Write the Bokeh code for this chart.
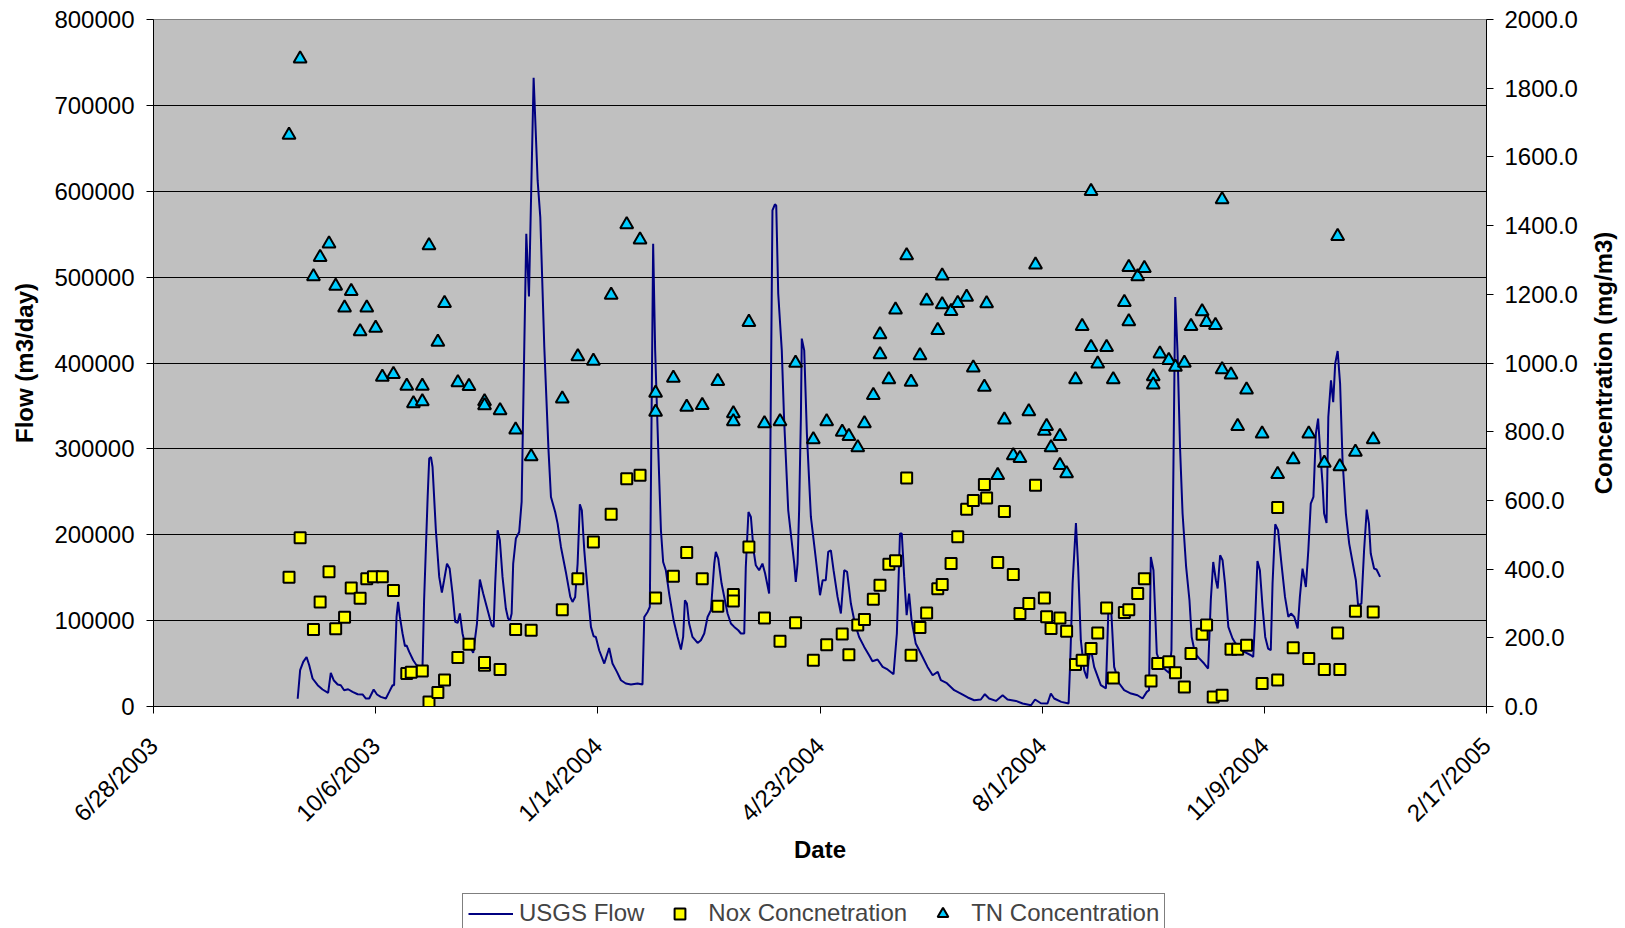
import math
from bokeh.plotting import figure
from bokeh.layouts import column, row
from bokeh.models import (Range1d, LinearAxis, FixedTicker, NumeralTickFormatter,
                          Legend, LegendItem, Label)
from bokeh.embed import file_html
from bokeh.resources import INLINE

# ---------------- data (x = days since 6/28/2003) ----------------
x_tick_days = [0, 100, 200, 300, 400, 500, 600]
x_tick_labels = ["6/28/2003", "10/6/2003", "1/14/2004", "4/23/2004",
                 "8/1/2004", "11/9/2004", "2/17/2005"]
flow_ticks = [0, 100000, 200000, 300000, 400000, 500000, 600000, 700000, 800000]
conc_ticks = [0, 200, 400, 600, 800, 1000, 1200, 1400, 1600, 1800, 2000]
series_names = ["USGS Flow", "Nox Concnetration", "TN Concentration"]

flow_day = [64.9, 66.0, 67.4, 68.9, 70.1, 71.6, 73.9, 76.1, 78.6, 79.8, 81.1, 82.9, 84.3, 85.8,
            87.6, 89.6, 91.9, 94.1, 95.6, 97.1, 99.1, 100.6, 102.3, 104.6, 106.1, 107.6, 108.3,
            109.4, 110.1, 110.9, 112.1, 113.2, 113.9, 115.1, 116.9, 118.4, 120.4, 121.1, 121.8,
            123.4, 124.1, 124.9, 125.6, 127.1, 128.6, 129.8, 130.8, 132.1, 133.3, 134.6, 135.8,
            136.9, 137.9, 139.1, 140.6, 142.9, 143.9, 145.6, 146.9, 148.4, 150.8, 152.2, 153.1,
            153.8, 154.9, 155.9, 157.1, 158.6, 159.6, 160.5, 161.2, 161.9, 163.1, 164.6, 165.7,
            166.1, 166.9, 167.8, 169.0, 171.1, 172.9, 174.1, 175.9, 177.8, 178.9, 180.8, 181.9,
            183.4, 185.6, 187.6, 188.6, 189.8, 190.9, 191.9, 192.8, 193.9, 195.4, 196.9, 198.1,
            199.1, 200.6, 202.9, 205.1, 206.6, 208.6, 210.4, 212.6, 214.9, 217.9, 220.1, 220.9,
            222.4, 223.4, 223.9, 224.9, 225.8, 227.2, 228.4, 229.4, 230.6, 232.1, 234.1, 235.9,
            237.4, 238.4, 239.2, 240.1, 241.1, 242.6, 244.9, 246.4, 247.9, 249.4, 250.9, 252.4,
            253.1, 254.2, 255.7, 257.2, 258.4, 259.9, 261.4, 263.2, 264.4, 265.9, 266.6, 267.4,
            267.8, 268.9, 270.1, 271.1, 272.6, 274.1, 275.3, 277.1, 278.6, 279.7, 280.3, 281.2,
            282.8, 283.8, 285.7, 287.2, 288.4, 289.1, 289.9, 290.6, 291.4, 291.8, 292.9, 294.1,
            295.9, 298.2, 300.0, 301.2, 302.6, 303.7, 304.9, 306.1, 307.9, 309.4, 310.9, 312.2,
            313.9, 315.7, 317.6, 319.9, 322.1, 323.6, 325.9, 328.2, 330.4, 333.1, 334.6, 336.0,
            336.8, 337.9, 339.0, 340.1, 341.2, 343.1, 345.4, 348.4, 350.7, 353.0, 354.4, 357.1,
            360.4, 363.4, 366.5, 369.4, 372.4, 374.2, 376.1, 379.2, 382.2, 384.4, 388.2, 391.2,
            395.0, 396.8, 399.4, 402.4, 403.9, 405.4, 408.6, 411.9, 412.6, 413.7, 415.2, 416.2,
            417.4, 418.9, 420.2, 420.9, 421.9, 423.4, 426.4, 428.7, 429.8, 431.0, 432.4, 434.7,
            436.9, 440.0, 442.9, 445.2, 447.1, 448.1, 448.9, 450.1, 451.6, 453.4, 455.7, 457.2,
            458.2, 459.0, 459.9, 460.9, 462.1, 463.2, 464.8, 466.3, 467.3, 468.8, 470.7, 472.9,
            474.7, 475.9, 477.0, 478.2, 479.0, 480.1, 481.2, 482.3, 483.8, 485.7, 488.0, 491.0,
            494.0, 495.0, 495.9, 496.9, 498.0, 499.2, 500.4, 501.7, 502.9, 503.7, 504.9, 506.2,
            507.7, 509.3, 510.8, 512.0, 513.5, 515.0, 516.0, 517.2, 518.7, 519.8, 520.9, 522.1,
            523.2, 524.2, 525.1, 526.2, 526.9, 528.0, 528.8, 530.0, 531.0, 531.9, 533.0, 534.1,
            535.2, 536.7, 538.2, 539.7, 541.2, 542.2, 543.7, 544.9, 546.1, 547.1, 547.9, 549.4,
            550.5, 552.1]
flow_m3d = [9000, 42300, 51900, 57700, 48100, 32600, 24800, 19800, 15800, 39100, 30600, 25600,
            24800, 19000, 20100, 17000, 14300, 14000, 9300, 9300, 19800, 14000, 11200, 9300, 17000,
            24800, 24800, 104300, 121800, 104300, 85000, 70200, 71300, 63600, 53900, 48100, 46100,
            48100, 123700, 244000, 288700, 290500, 278900, 205200, 150900, 132700, 147000, 166400,
            160600, 131500, 98500, 97300, 108300, 85000, 67500, 67500, 62400, 96600, 147800,
            131500, 108300, 94600, 92700, 143200, 205200, 193600, 150900, 114100, 102400, 100500,
            108300, 166400, 195600, 203200, 238200, 298300, 420000, 550600, 477600, 732200,
            612600, 569900, 418600, 298300, 244000, 226500, 213000, 185800, 156700, 127600,
            121800, 127600, 166400, 235500, 228500, 181900, 135400, 92700, 81800, 81000, 65500,
            50000, 68200, 50000, 40300, 30600, 26800, 25600, 26800, 25600, 104300, 110100, 115900,
            259600, 538900, 414700, 298300, 205200, 168300, 158700, 131500, 100500, 81000, 66300,
            81000, 123700, 119900, 96600, 81000, 74000, 77200, 85000, 104300, 112100, 166400,
            180000, 172300, 143200, 123700, 108300, 96600, 92700, 88800, 85000, 85000, 162500,
            205200, 226500, 220700, 181900, 164500, 158700, 166400, 154800, 131500, 577700,
            584700, 583500, 480700, 414700, 337100, 228500, 193600, 166400, 145000, 166400,
            228500, 337100, 428400, 414700, 317800, 220700, 170300, 129600, 147000, 147000,
            180000, 181900, 158700, 127600, 108300, 158700, 156700, 119900, 96600, 81000, 69400,
            59700, 52700, 54700, 46100, 43100, 37600, 85000, 201400, 201400, 150900, 106300,
            131500, 100500, 73300, 61700, 46100, 36400, 40300, 30600, 27100, 19000, 15100, 10500,
            7300, 8150, 14300, 9300, 6500, 13100, 8150, 6500, 3500, 1500, 8150, 3800, 3500, 15100,
            9300, 5400, 3500, 50000, 143200, 213700, 162500, 77200, 42300, 32600, 53900, 67500,
            46100, 24800, 21000, 112100, 115900, 46100, 26800, 19000, 15100, 13100, 9300, 17000,
            19000, 174100, 158700, 61700, 48100, 42300, 39100, 65500, 259600, 476800, 414700,
            298300, 224700, 162500, 123700, 81000, 61700, 56000, 50000, 44200, 123700, 168300,
            147000, 137400, 176100, 170300, 143200, 92700, 79200, 69400, 63600, 59700, 57700,
            104300, 169500, 158700, 115900, 81000, 67500, 65500, 143200, 212200, 205200, 166400,
            127600, 104300, 108300, 104300, 90800, 127600, 160600, 139200, 181900, 236300, 244000,
            317800, 335200, 298300, 259600, 224700, 213700, 337100, 379800, 354500, 399300,
            414000, 376000, 286700, 224700, 189700, 168300, 147000, 117900, 119900, 181900,
            229300, 213000, 178100, 160600, 159500, 150900]

nox_day = [61, 66, 72, 75, 79, 82, 86, 89, 93, 96, 99, 103, 108, 114, 116, 121, 124, 128, 131,
           137, 142, 149, 149, 156, 163, 170, 184, 191, 198, 206, 213, 219, 226, 234, 240, 247,
           254, 261, 261, 268, 275, 282, 289, 297, 303, 310, 313, 317, 320, 324, 327, 331, 334,
           339, 341, 345, 348, 353, 355, 359, 362, 366, 369, 374, 375, 380, 383, 387, 390, 394,
           397, 401, 402, 404, 408, 411, 415, 418, 422, 425, 429, 432, 437, 439, 443, 446, 449,
           452, 457, 460, 464, 467, 472, 474, 477, 481, 485, 488, 492, 499, 506, 506, 513, 520,
           527, 533, 534, 541, 549]
nox_conc = [376, 491, 224, 304, 392, 226, 260, 345, 315, 372, 378, 378, 338, 96, 100, 103, 13,
            41, 77, 143, 181, 120, 128, 108, 224, 222, 282, 372, 479, 560, 663, 673, 316, 379,
            448, 372, 292, 326, 307, 464, 258, 190, 244, 135, 180, 211, 151, 237, 253, 312, 353,
            414, 424, 665, 149, 230, 272, 343, 355, 416, 494, 574, 600, 646, 607, 419, 568, 384,
            271, 300, 644, 316, 261, 227, 258, 219, 122, 135, 169, 214, 287, 83, 274, 282, 329,
            372, 74, 125, 130, 98, 57, 154, 210, 237, 28, 33, 167, 167, 178, 67, 77, 579, 171,
            140, 108, 214, 108, 277, 275]

tn_day = [61, 66, 72, 75, 79, 82, 86, 89, 93, 96, 100, 103, 108, 114, 117, 121, 121, 124, 128,
          131, 137, 142, 149, 149, 156, 163, 170, 184, 191, 198, 206, 213, 219, 226, 226, 234,
          240, 247, 254, 261, 261, 268, 275, 282, 289, 297, 303, 310, 313, 317, 320, 324, 327,
          327, 331, 334, 339, 341, 345, 348, 353, 355, 355, 359, 362, 366, 369, 374, 375, 380,
          383, 387, 390, 394, 397, 401, 402, 404, 408, 408, 411, 415, 418, 422, 422, 425, 429,
          432, 437, 439, 439, 443, 446, 450, 450, 453, 457, 460, 464, 467, 472, 474, 478, 481,
          481, 485, 488, 492, 499, 506, 513, 520, 527, 533, 534, 541, 549]
tn_conc = [1664, 1886, 1252, 1308, 1347, 1224, 1161, 1209, 1092, 1161, 1102, 959, 967, 933, 882,
           933, 888, 1342, 1061, 1174, 943, 932, 888, 876, 862, 806, 728, 896, 1019, 1006, 1198,
           1403, 1359, 913, 857, 956, 872, 877, 947, 853, 830, 1119, 824, 830, 1000, 777, 830,
           799, 787, 754, 824, 906, 1083, 1025, 952, 1155, 1313, 945, 1022, 1181, 1095, 1254,
           1170, 1151, 1174, 1192, 986, 930, 1173, 673, 835, 731, 723, 859, 1286, 802, 816, 754,
           787, 702, 678, 952, 1107, 1500, 1046, 998, 1046, 952, 1177, 1279, 1121, 1252, 1276,
           961, 937, 1027, 1008, 988, 1000, 1107, 1150, 1119, 1110, 1476, 981, 966, 816, 922,
           794, 676, 719, 794, 709, 1369, 699, 741, 777]

FONT = "Liberation Sans"
FLOW_COLOR = "#000080"
NOX_COLOR = "#FFFF00"
TN_COLOR = "#00CCFF"

# ---------------- main chart ----------------
p = figure(width=1585, height=892, output_backend="svg", toolbar_location=None,
           x_range=Range1d(0, 600), y_range=Range1d(0, 800000),
           min_border_left=153, min_border_right=99, min_border_top=19,
           min_border_bottom=186,
           background_fill_color="#C0C0C0", border_fill_color="white")
p.extra_y_ranges = {"conc": Range1d(0, 2000)}
p.outline_line_color = "#808080"
p.outline_line_width = 1

p.xgrid.visible = False
p.ygrid.ticker = FixedTicker(ticks=flow_ticks[1:-1])
p.ygrid.grid_line_color = "black"
p.ygrid.grid_line_width = 1

r_flow = p.line(flow_day, flow_m3d, line_color=FLOW_COLOR, line_width=2)
r_nox = p.scatter(nox_day, nox_conc, y_range_name="conc", marker="square", size=11,
                  fill_color=NOX_COLOR, line_color="black", line_width=2)
r_tn = p.scatter(tn_day, tn_conc, y_range_name="conc", marker="triangle", size=13,
                 fill_color=TN_COLOR, line_color="black", line_width=2)


def style_axis(ax):
    ax.axis_line_color = "black"
    ax.axis_line_width = 1
    ax.major_tick_line_color = "black"
    ax.major_tick_out = 7
    ax.major_tick_in = 0
    ax.minor_tick_line_color = None
    ax.major_label_text_font = FONT
    ax.major_label_text_font_size = "24px"
    ax.major_label_text_color = "black"
    ax.axis_label_text_font = FONT
    ax.axis_label_text_font_size = "24px"
    ax.axis_label_text_font_style = "bold"
    ax.axis_label_text_color = "black"


xa = p.xaxis[0]
style_axis(xa)
xa.ticker = FixedTicker(ticks=x_tick_days)
xa.major_label_overrides = {d: s for d, s in zip(x_tick_days, x_tick_labels)}
xa.major_label_orientation = math.pi / 4
xa.major_label_standoff = 28
xa.axis_label = "Date"
xa.axis_label_standoff = -3

ya = p.yaxis[0]
style_axis(ya)
ya.ticker = FixedTicker(ticks=flow_ticks)
ya.formatter = NumeralTickFormatter(format="0")
ya.major_label_standoff = 12
ya.axis_label = "Flow (m3/day)"
ya.axis_label_standoff = 13

ra = LinearAxis(y_range_name="conc")
style_axis(ra)
ra.ticker = FixedTicker(ticks=conc_ticks)
ra.formatter = NumeralTickFormatter(format="0.0")
ra.major_label_standoff = 11
p.add_layout(ra, "right")

# ---------------- right-hand axis title (reads bottom-to-top) ----------------
p_r = figure(width=40, height=892, output_backend="svg", toolbar_location=None,
             x_axis_location=None, y_axis_location=None,
             min_border_left=0, min_border_right=0, min_border_top=19,
             min_border_bottom=186,
             x_range=Range1d(0, 40), y_range=Range1d(0, 687),
             background_fill_color="white", border_fill_color="white")
p_r.outline_line_color = None
p_r.grid.visible = False
p_r.add_layout(Label(x=18, y=343.5, text="Concentration (mg/m3)", angle=math.pi / 2,
                     text_align="center", text_baseline="middle",
                     text_font=FONT, text_font_size="24px", text_font_style="bold",
                     text_color="black"))

# ---------------- legend strip (cut off by the window bottom, as in the reference) ----
p2 = figure(width=1625, height=36, output_backend="svg", toolbar_location=None,
            x_axis_location=None, y_axis_location=None,
            min_border_left=153, min_border_right=139, min_border_top=0,
            min_border_bottom=0,
            x_range=Range1d(0, 1), y_range=Range1d(0, 1),
            background_fill_color="white", border_fill_color="white")
p2.outline_line_color = None
p2.grid.visible = False
g_flow = p2.line([-5, -4], [-5, -5], line_color=FLOW_COLOR, line_width=2)
g_nox = p2.scatter([-5], [-5], marker="square", size=9, fill_color=NOX_COLOR,
                   line_color="black", line_width=2)
g_tn = p2.scatter([-5], [-5], marker="triangle", size=13, fill_color=TN_COLOR,
                  line_color="black", line_width=2)

legend = Legend(items=[LegendItem(label=series_names[0], renderers=[g_flow]),
                       LegendItem(label=series_names[1], renderers=[g_nox]),
                       LegendItem(label=series_names[2], renderers=[g_tn])],
                orientation="horizontal", location=(309, -5),
                border_line_color="black", border_line_width=1,
                background_fill_color="white", background_fill_alpha=1,
                label_text_font=FONT, label_text_font_size="24px",
                glyph_width=45, glyph_height=27, label_height=27,
                label_standoff=6, spacing=13, padding=5, margin=0)
p2.add_layout(legend)

layout = column(row(p, p_r, spacing=0), p2, spacing=0)
open("out.html", "w").write(file_html(layout, INLINE))
